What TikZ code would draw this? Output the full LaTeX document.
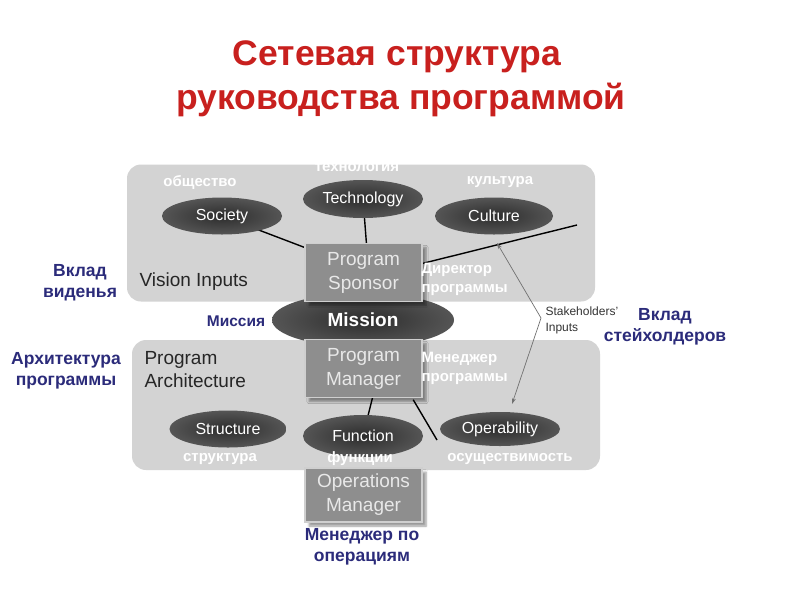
\documentclass[tikz,border=0pt]{standalone}
\usepackage{fontspec}
\setmainfont{Liberation Sans}
\usetikzlibrary{shadows.blur,arrows.meta,shapes.geometric,calc}
\definecolor{titlered}{HTML}{C8201E}
\definecolor{labblue}{HTML}{2B2B7A}
\definecolor{panelgray}{HTML}{D3D3D3}
\definecolor{ovalin}{HTML}{2C2C2C}
\definecolor{ovalout}{HTML}{555555}
\definecolor{boxgray}{HTML}{8E8E8E}
\definecolor{boxedge}{HTML}{CFCFCF}
\definecolor{boxtext}{HTML}{E8E8E8}
\definecolor{stakegray}{HTML}{707070}
\begin{document}
\begin{tikzpicture}[x=1pt,y=-1pt,
  title/.style={text=titlered, font=\fontsize{35.5}{42}\bfseries\selectfont},
  panel/.style={fill=panelgray, rounded corners=14pt, draw=none, inner sep=0pt},
  oval/.style={ellipse, inner color=ovalin, outer color=ovalout, text=white, inner sep=0pt, font=\fontsize{16}{19}\selectfont},
  boxn/.style={rectangle, fill=boxgray, draw=boxedge, line width=1.5pt, text=boxtext, align=center, inner sep=0pt,
     font=\fontsize{19}{24}\selectfont, blur shadow={shadow xshift=4pt, shadow yshift=-4pt, shadow blur steps=5}},
  wlab/.style={text=white, font=\fontsize{15}{19}\bfseries\selectfont},
  wlabl/.style={wlab, align=left, anchor=west},
  blab/.style={text=labblue, align=center, font=\fontsize{17.5}{21}\bfseries\selectfont},
  klab/.style={text=black!85, align=left, anchor=west, font=\fontsize{19}{23}\selectfont},
  conn/.style={line width=1.4pt, black},
  stake/.style={line width=0.7pt, stakegray, {Stealth[length=6pt,width=4pt]}-{Stealth[length=6pt,width=4pt]}}
]
\useasboundingbox (0,0) rectangle (800,600);

% title
\node[title] (t1) at (397,57) {Сетевая структура};
\node[title] (t2) at (401,100) {руководства программой};

% panels
\node[panel, minimum width=468pt, minimum height=137pt] (vpanel) at (361,233) {};
\node[panel, minimum width=468pt, minimum height=130pt] (apanel) at (366,405) {};

% panel titles
\node[klab] (vis) at (136,282) {Vision Inputs};
\node[klab] (arch) at (141,370) {Program\\Architecture};

% coordinates for connectors
\coordinate (sponsorpos) at (363.5,272.5);
\coordinate (cl) at (577,225);
\coordinate (opend) at (437,440);
\coordinate (sa) at (497,243);
\coordinate (kink) at (541,318);
\coordinate (sb) at (512,404);

% mission behind boxes
\node[oval, minimum width=182pt, minimum height=54pt, font=\fontsize{19}{22}\bfseries\selectfont] (mission) at (363,320) {Mission};

% invisible helper nodes for box geometry used by connectors
\path node[rectangle, minimum width=117pt, minimum height=58pt, inner sep=0pt] (sponsorg) at (363.5,272.5) {};
\path node[rectangle, minimum width=117pt, minimum height=58pt, inner sep=0pt] (managerg) at (363.5,368.5) {};

% connectors
\draw[conn] (222,216) coordinate (socc) -- ($(sponsorg.north west)+(2,5)$);
\draw[conn] (363,199) coordinate (tecc) -- ($(sponsorg.north)+(3,1)$);
\draw[conn] ($(sponsorg.east)+(0,-9)$) -- (cl);
\draw[conn] ($(managerg.south)+(9,0)$) -- (363,436);
\draw[conn] ($(managerg.south east)+(-9,2)$) -- (opend);

% ovals
\node[oval, minimum width=120pt, minimum height=37pt] (society) at (socc) {Society};
\node[oval, minimum width=120pt, minimum height=38pt] (technology) at (tecc) {Technology};
\node[oval, minimum width=118pt, minimum height=37pt] (culture) at (494,216) {Culture};
\node[oval, minimum width=117pt, minimum height=37pt] (structure) at (228,429) {Structure};
\node[oval, minimum width=120pt, minimum height=42pt] (function) at (363,436) {Function};
\node[oval, minimum width=120pt, minimum height=34pt] (operability) at (500,429) {Operability};

% boxes
\node[boxn, minimum width=117pt, minimum height=58pt] (sponsor) at (sponsorpos) {Program\\Sponsor};
\node[boxn, minimum width=117pt, minimum height=58pt] (manager) at (363.5,368.5) {Program\\Manager};
\node[boxn, minimum width=117pt, minimum height=54pt] (opsman) at (363.5,495) {Operations\\Manager};

% stakeholders arrow
\draw[stake] (sa) -- (kink) -- (sb);
\node[anchor=west, align=left, text=black!80, font=\fontsize{12}{16}\selectfont] (stk) at (542,320) {Stakeholders'\\Inputs};

% white russian labels
\node[wlab] (l1) at (200,182) {общество};
\node[wlab] (l2) at (357,168) {технология};
\node[wlab] (l3) at (500,182) {культура};
\node[wlabl, font=\fontsize{15}{19}\bfseries\selectfont] (l4) at (418,279) {Директор\\программы};
\node[wlabl, font=\fontsize{15}{19}\bfseries\selectfont] (l5) at (418,368) {Менеджер\\программы};
\node[wlab] (l6) at (220,459) {структура};
\node[wlab] (l7) at (360,459) {функции};
\node[wlab] (l8) at (510,459) {осуществимость};

% blue labels
\node[blab] (b1) at (80,283) {Вклад\\виденья};
\node[blab, font=\fontsize{15.5}{18}\bfseries\selectfont] (b2) at (236,321) {Миссия};
\node[blab] (b3) at (66,371) {Архитектура\\программы};
\node[blab] (b4) at (665,327) {Вклад\\стейхолдеров};
\node[blab] (b5) at (362,547) {Менеджер по\\операциям};
\end{tikzpicture}
\end{document}
